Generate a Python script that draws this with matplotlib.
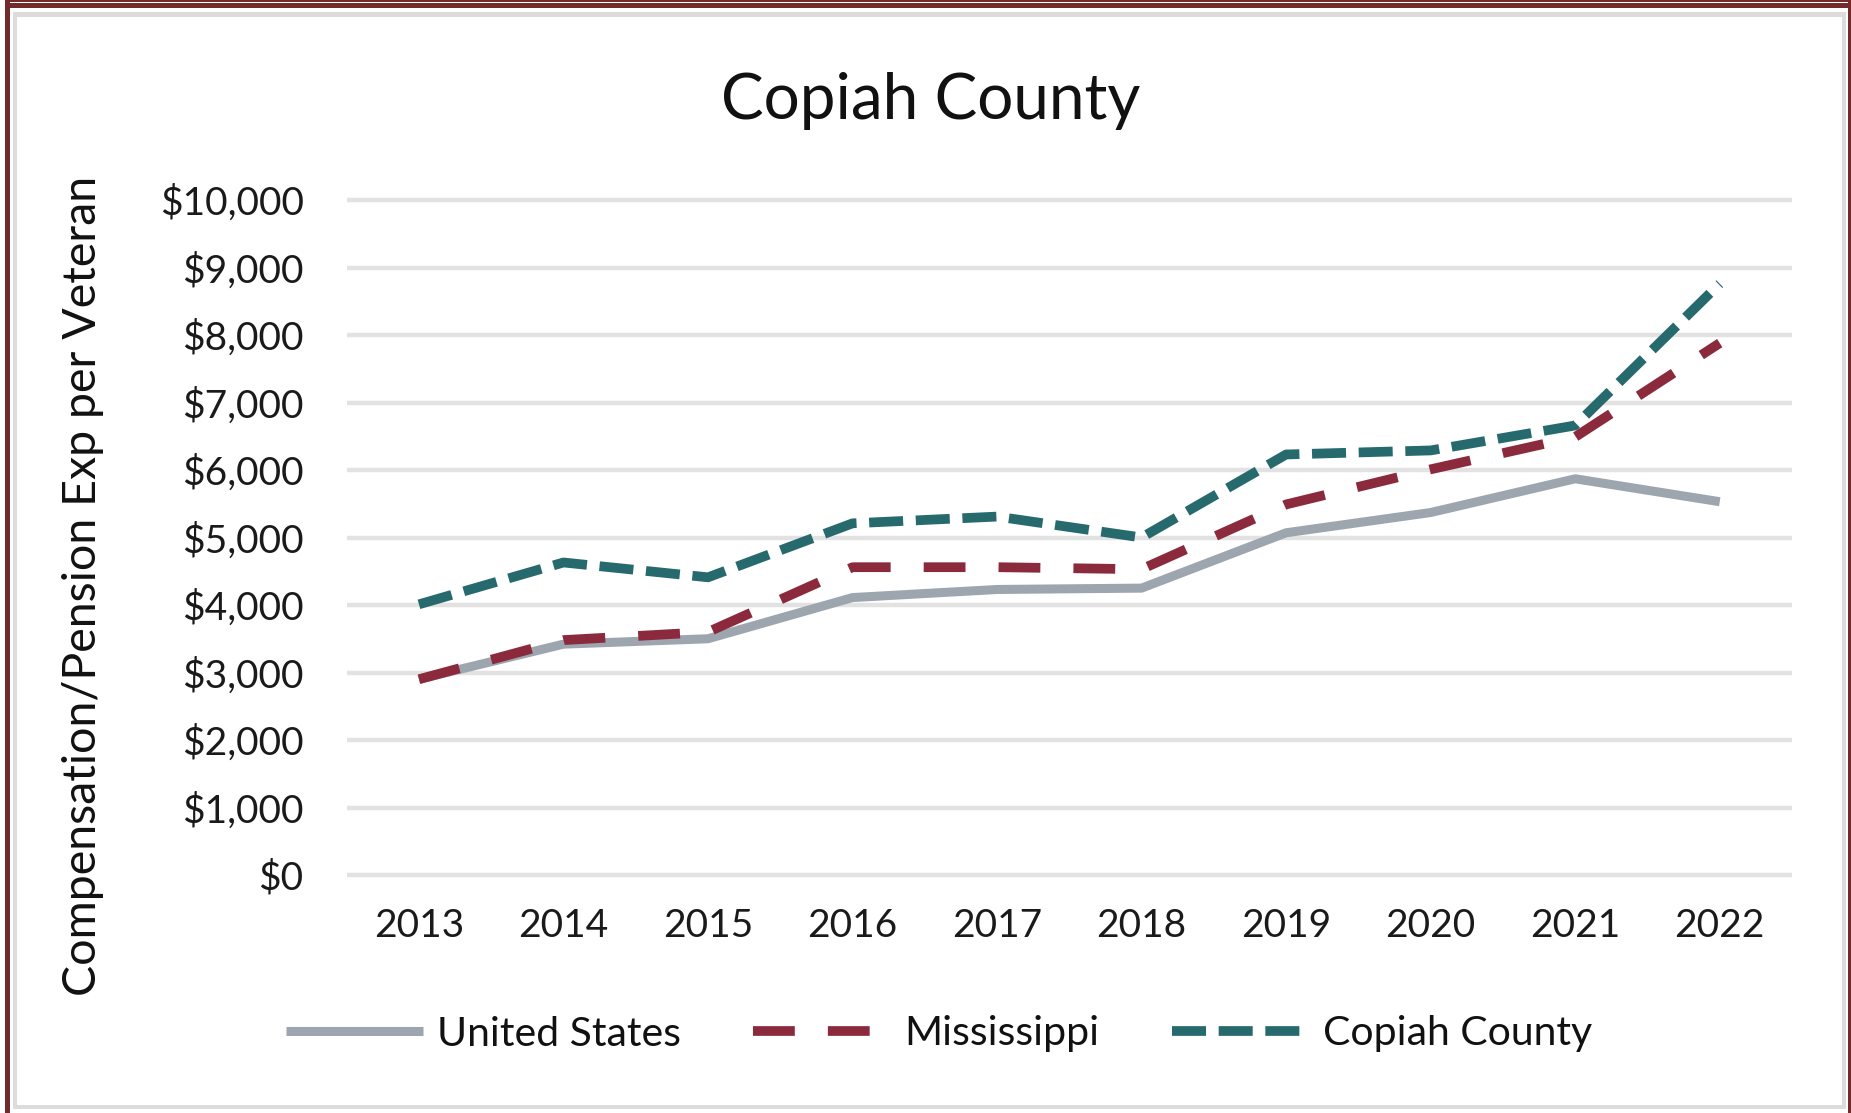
import matplotlib
matplotlib.use("Agg")
import matplotlib.pyplot as plt
from matplotlib.patches import Rectangle
from matplotlib.ticker import FuncFormatter, MultipleLocator

plt.rcParams['font.family'] = ['Lato', 'DejaVu Sans']

years = ['2013', '2014', '2015', '2016', '2017', '2018', '2019', '2020', '2021', '2022']
united_states = [2900, 3420, 3500, 4110, 4230, 4250, 5070, 5370, 5870, 5530]
mississippi = [2900, 3480, 3600, 4560, 4560, 4530, 5490, 6010, 6490, 7880]
copiah_county = [4010, 4630, 4410, 5210, 5310, 5000, 6230, 6290, 6660, 8760]

title = "Copiah County"
ylabel = "Compensation/Pension Exp per Veteran"
series_names = ["United States", "Mississippi", "Copiah County"]

W, H = 1851, 1113
fig = plt.figure(figsize=(W / 100, H / 100), dpi=100)
fig.patch.set_facecolor('white')

def fx(px):
    return px / W

def fy(py):
    return 1 - py / H

# frame
maroon = '#722a2b'
frame_gray = '#dcdcdc'
for (x0, y0, x1, y1, c) in [
    (5, 0, 10, H, maroon),
    (5, 3, W, 8, maroon),
    (5, 0, W, 2, maroon),
    (1848, 0, W, H, maroon),
    (13, 12, 17, 1109, frame_gray),
    (13, 12, 1846, 17, frame_gray),
    (1842, 12, 1846, 1109, frame_gray),
    (13, 1105, 1846, 1109, frame_gray),
]:
    fig.patches.append(Rectangle((fx(x0), fy(y1)), fx(x1) - fx(x0), fy(y0) - fy(y1),
                                 transform=fig.transFigure, facecolor=c, edgecolor='none', zorder=0))

# axes: y range -100..10100 ; x range -0.5..9.5
left, right = 346.7, 1792.0
y_top, y_bot = 193.25, 881.75
ax = fig.add_axes([fx(left), fy(y_bot), fx(right) - fx(left), fy(y_top) - fy(y_bot)])
ax.set_facecolor('none')

x = list(range(len(years)))
ax.plot(x, united_states, color='#9da5ae', lw=6.5, solid_capstyle='butt', label=series_names[0], zorder=3)
ax.plot(x, mississippi, color='#8b2a3d', lw=7, dashes=(4.3, 3.4), dash_capstyle='butt', label=series_names[1], zorder=4)
ax.plot(x, copiah_county, color='#276a6e', lw=7, dashes=(3.5, 1.3), dash_capstyle='butt', label=series_names[2], zorder=5)

ax.set_xlim(-0.5, 9.5)
ax.set_ylim(-100, 10100)
ax.yaxis.set_major_locator(MultipleLocator(1000))
ax.yaxis.set_major_formatter(FuncFormatter(lambda v, p: "${:,.0f}".format(v)))
ax.set_xticks(x)
ax.set_xticklabels(years)
ax.grid(axis='y', color='#e2e2e2', lw=3.2)
ax.grid(axis='x', visible=False)
ax.set_axisbelow(True)
for s in ax.spines.values():
    s.set_visible(False)
ax.tick_params(axis='both', length=0, labelsize=28, colors='#1a1a1a')
ax.tick_params(axis='y', pad=31)
ax.tick_params(axis='x', pad=19)

fig.text(0.503, fy(119), title, ha='center', va='baseline', fontsize=46, color='#111111')
fig.text(fx(83), fy(586), ylabel, ha='center', va='center', rotation=90, fontsize=33.5, color='#111111')

leg = fig.legend(loc='center', bbox_to_anchor=(fx(939), fy(1034)), ncol=3, frameon=False,
                 fontsize=29.5, handlelength=3.35, handletextpad=0.35, columnspacing=1.75)
for t in leg.get_texts():
    t.set_color('#111111')

fig.savefig('out.png', dpi=100, facecolor='white')
